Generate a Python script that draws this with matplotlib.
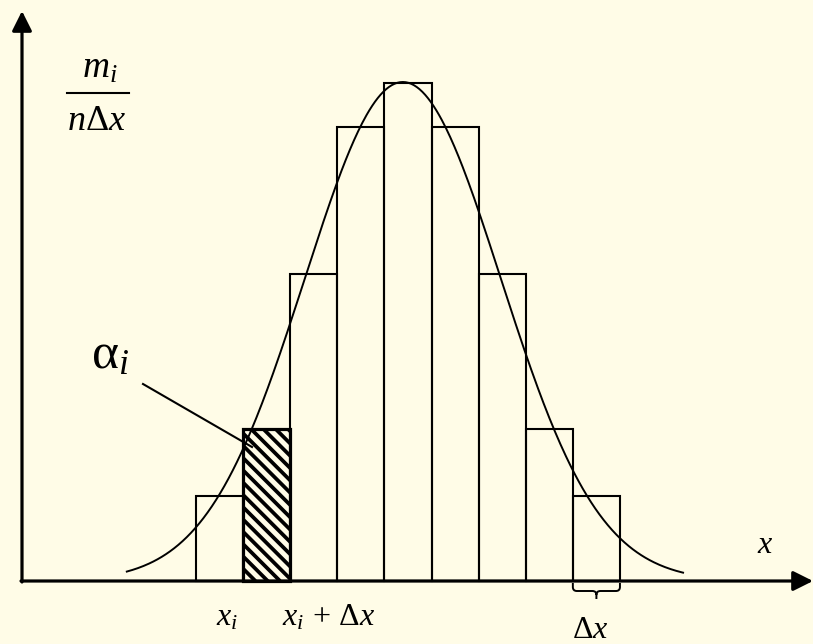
import numpy as np
import matplotlib
matplotlib.use('Agg')
import matplotlib.pyplot as plt
from matplotlib.path import Path
from matplotlib.patches import PathPatch

# histogram: one bin = width 1, heights in units of m_i/(n dx)
bin_centers = [-4, -3, -2, -1, 0, 1, 2, 3, 4]
bin_heights = [0.85, 1.52, 3.07, 4.54, 4.98, 4.54, 3.07, 1.52, 0.85]
bin_width = 1.0
hatched_bin = 1   # the alpha_i bin
brace_bin = 8     # the bin marked with the delta-x brace

# density curve drawn over the histogram
curve_mu = -0.11
curve_sigma = 2.08
curve_peak = 4.99
curve_span = (-5.97, 5.84)

W, H = 813, 644
bg = '#fffce7'

plt.rcParams['mathtext.fontset'] = 'custom'
plt.rcParams['mathtext.rm'] = 'Liberation Serif'
plt.rcParams['mathtext.it'] = 'Liberation Serif:italic'
plt.rcParams['mathtext.bf'] = 'Liberation Serif:bold'

fig = plt.figure(figsize=(W/100, H/100), dpi=100, facecolor=bg)
ax = fig.add_axes([0, 0, 1, 1])
ax.set_facecolor(bg)
ax.axis('off')
# 1 bin = 47.1 px, 1 height unit = 100 px, origin at px (408, 581)
ux, uy, ox, oy = 47.1, 100.0, 408, 581
ax.set_xlim(-ox/ux, (W-ox)/ux)
ax.set_ylim((oy-H)/uy, oy/uy)

def px(x, y):
    # picture pixel -> data coords
    return ((x-ox)/ux, (oy-y)/uy)

def ftext(x, y, s, size, **kw):
    fig.text(x/W, 1-y/H, s, fontsize=size, ha='center', va='baseline', **kw)

# axes with arrows
arw = dict(arrowstyle='-|>,head_length=0.6,head_width=0.3', lw=2.3, color='k',
           mutation_scale=20, shrinkA=0, shrinkB=0)
ax.annotate('', xy=px(22, 11), xytext=px(22, 582), arrowprops=arw, annotation_clip=False)
ax.annotate('', xy=px(813, 581), xytext=px(21, 581), arrowprops=arw, annotation_clip=False)

# bars
bars = ax.bar(bin_centers, bin_heights, width=bin_width, fill=False,
              edgecolor='k', linewidth=1.5, zorder=2)
hb = bars[hatched_bin]
hb.set_linewidth(2.3)

# hatch of the alpha_i bar, 45 deg in the picture
x0 = bin_centers[hatched_bin] - bin_width/2
h = bin_heights[hatched_bin]
run = h*uy/ux          # x distance for a stripe to go from top to bottom
for s in np.arange(x0 - run, x0 + bin_width + 0.3, 12.3/ux):
    ln, = ax.plot([s, s + run], [h, 0], color='k', lw=2.7, solid_capstyle='butt', zorder=2)
    ln.set_clip_path(hb)

# density curve
xc = np.linspace(curve_span[0], curve_span[1], 400)
yc = curve_peak*np.exp(-(xc-curve_mu)**2/(2*curve_sigma**2))
ax.plot(xc, yc, color='k', lw=1.4, zorder=3)

# leader line for alpha_i
a, b = px(143, 384), px(252, 447)
ax.plot([a[0], b[0]], [a[1], b[1]], color='k', lw=1.5, zorder=3)

# brace under the last bin
bl = bin_centers[brace_bin] - bin_width/2
br = bin_centers[brace_bin] + bin_width/2
bm = (bl + br)/2
yt, yh, yk = -0.02, -0.10, -0.18
rx, ry = 0.085, 0.04
verts = [(bl, yt), (bl, yh+ry), (bl, yh), (bl+rx, yh), (bm-rx, yh), (bm, yh), (bm, yh-ry), (bm, yk),
         (bm, yh-ry), (bm, yh), (bm+rx, yh), (br-rx, yh), (br, yh), (br, yh+ry), (br, yt)]
codes = [Path.MOVETO, Path.LINETO, Path.CURVE3, Path.CURVE3, Path.LINETO, Path.CURVE3, Path.CURVE3, Path.LINETO,
         Path.MOVETO, Path.CURVE3, Path.CURVE3, Path.LINETO, Path.CURVE3, Path.CURVE3, Path.LINETO]
ax.add_patch(PathPatch(Path(verts, codes), fill=False, lw=1.4, edgecolor='k', zorder=3))

# labels
ftext(100, 78, r'$m_i$', 27)
fig.add_artist(plt.Line2D([67/W, 129/W], [1-93/H, 1-93/H], color='k', lw=1.5))
ftext(97, 130, r'$n\mathrm{\Delta}x$', 26)
ftext(110, 368, r'$\mathrm{\alpha}_i$', 37)
ftext(227, 625, r'$x_i$', 23)
ftext(329, 625, r'$x_i\,+\,\mathrm{\Delta}x$', 23)
ftext(590, 638, r'$\mathrm{\Delta}x$', 23)
ftext(765, 553, r'$x$', 23)

fig.savefig('out.png', dpi=100, facecolor=bg)
